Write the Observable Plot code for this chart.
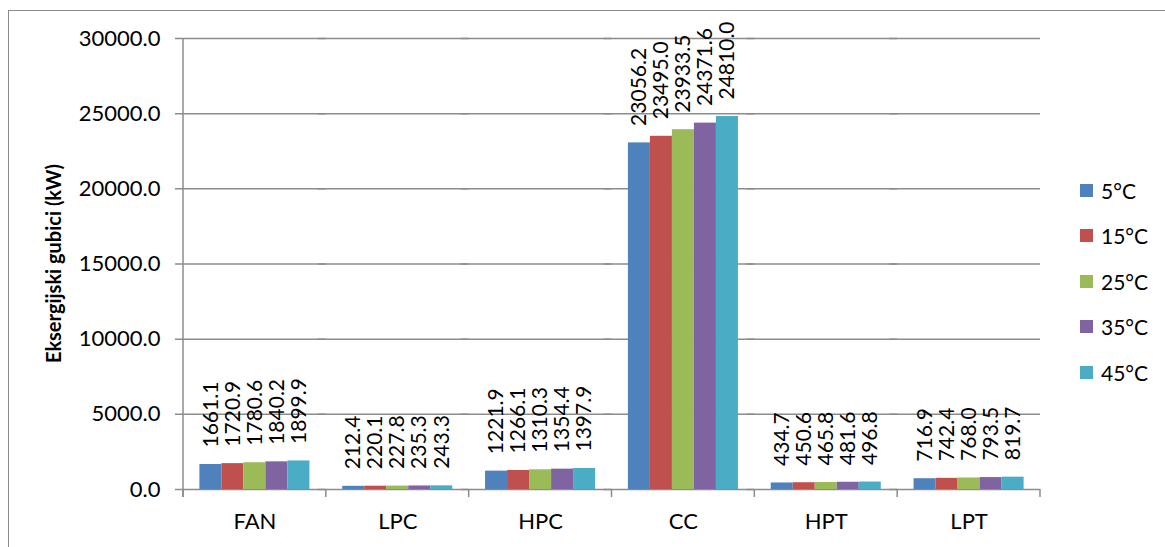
<!DOCTYPE html>
<html>
<head>
<meta charset="utf-8">
<script src="https://cdn.jsdelivr.net/npm/d3@7"></script>
<script src="https://cdn.jsdelivr.net/npm/@observablehq/plot@0.6"></script>
<style>
  html, body { margin: 0; padding: 0; background: #fff; }
  #wrap { position: relative; width: 1165px; height: 547px; overflow: hidden; font-family: Lato, "Open Sans", sans-serif; }
  #border { position: absolute; left: 8px; top: 10px; width: 1300px; height: 700px; border: 1.5px solid #8c8c8c; pointer-events: none; }
  #legend { position: absolute; left: 0; top: 0; }
  .item { position: absolute; left: 1080px; display: flex; align-items: center; font-size: 21px; color: #000; height: 30px; }
  .sw { width: 13px; height: 13px; margin-right: 8px; }
</style>
</head>
<body>
<div id="wrap"><div id="chart"></div><div id="legend"></div><div id="border"></div></div>
<script>
const categories = ["FAN", "LPC", "HPC", "CC", "HPT", "LPT"];
const series = ["5°C", "15°C", "25°C", "35°C", "45°C"];
const colors = ["#4F81BD", "#C0504D", "#9BBB59", "#8064A2", "#4BACC6"];
const v5  = [1661.1, 212.4, 1221.9, 23056.2, 434.7, 716.9];
const v15 = [1720.9, 220.1, 1266.1, 23495.0, 450.6, 742.4];
const v25 = [1780.6, 227.8, 1310.3, 23933.5, 465.8, 768.0];
const v35 = [1840.2, 235.3, 1354.4, 24371.6, 481.6, 793.5];
const v45 = [1899.9, 243.3, 1397.9, 24810.0, 496.8, 819.7];
const yTicks = [0, 5000, 10000, 15000, 20000, 25000, 30000];
const yTitle = "Eksergijski gubici (kW)";

const valueSets = [v5, v15, v25, v35, v45];
const data = [];
categories.forEach((c, i) => series.forEach((s, j) => data.push({cat: c, series: s, value: valueSets[j][i]})));

const gridColor = "#8c8c8c";

const plot = Plot.plot({
  width: 1165,
  height: 547,
  marginLeft: 183,
  marginRight: 125,
  marginTop: 38,
  marginBottom: 58,
  style: {fontFamily: "Lato, 'Open Sans', sans-serif", fontSize: "22px", color: "#000", background: "transparent", overflow: "visible"},
  facet: {data, x: "cat"},
  fx: {domain: categories, padding: 0, round: false, axis: "bottom", tickSize: 0, tickPadding: 24, label: null},
  x: {domain: series, paddingInner: 0, paddingOuter: 0.745, round: false, axis: null},
  y: {domain: [0, 30000], ticks: yTicks, tickFormat: d => d.toFixed(1), tickSize: 0, tickPadding: 23, label: null},
  color: {domain: series, range: colors},
  marks: [
    Plot.ruleY(yTicks, {stroke: gridColor, strokeWidth: 1.5, insetLeft: -8}),
    Plot.barY(data, {x: "series", y: "value", fill: "series"}),
    Plot.text(data, {x: "series", y: "value", text: d => d.value.toFixed(1), rotate: -90, textAnchor: "start", dy: -17, fontSize: 21, fill: "#000"})
  ]
});
document.getElementById("chart").appendChild(plot);

// axis line and category boundary ticks from the plot's own scales
const ys = plot.scale("y"), fxs = plot.scale("fx");
const svg = d3.select(plot);
const y0 = ys.apply(0), yTop = ys.apply(30000);
const bw = fxs.bandwidth;
const edges = categories.map(c => fxs.apply(c));
edges.push(fxs.apply(categories[categories.length - 1]) + bw);
const g = svg.append("g").attr("stroke", gridColor).attr("stroke-width", 1.5);
g.append("line").attr("x1", edges[0]).attr("x2", edges[0]).attr("y1", yTop).attr("y2", y0 + 8);
edges.forEach(x => g.append("line").attr("x1", x).attr("x2", x).attr("y1", y0).attr("y2", y0 + 8));
svg.append("text")
  .attr("transform", `translate(61,${(y0 + yTop) / 2}) rotate(-90)`)
  .attr("text-anchor", "middle")
  .attr("font-weight", "bold")
  .attr("font-size", 20)
  .attr("fill", "#000")
  .text(yTitle);

// legend
const leg = document.getElementById("legend");
series.forEach((s, i) => {
  const d = document.createElement("div");
  d.className = "item";
  d.style.top = (175 + i * 45.5) + "px";
  d.innerHTML = `<span class="sw" style="background:${colors[i]}"></span><span>${s}</span>`;
  leg.appendChild(d);
});
</script>
</body>
</html>
